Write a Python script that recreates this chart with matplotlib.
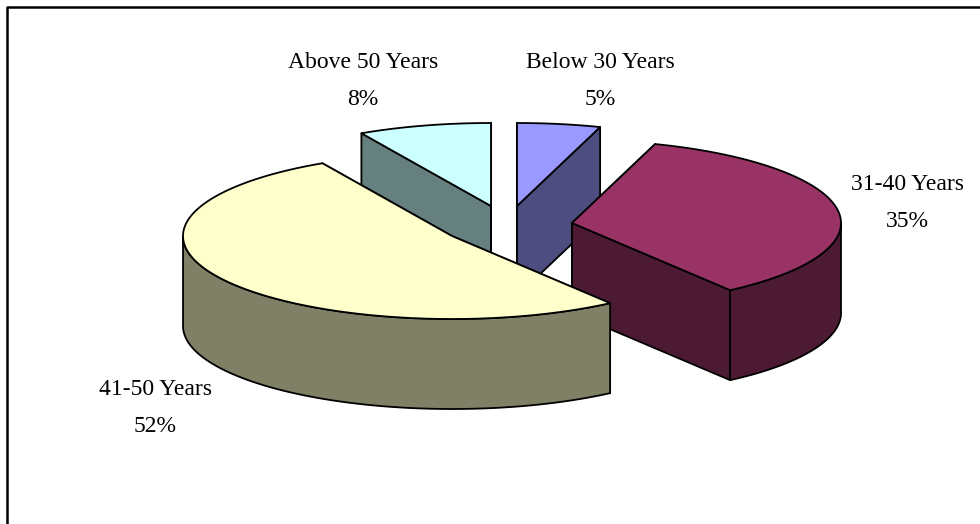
import numpy as np
import matplotlib
matplotlib.use('Agg')
import matplotlib.pyplot as plt
from matplotlib.patches import Polygon

labels = ['Below 30 Years', '31-40 Years', '41-50 Years', 'Above 50 Years']
values = [5, 35, 52, 8]
top_colors = ['#9999FF', '#993366', '#FFFFCC', '#CCFFFF']
side_colors = ['#4D4D80', '#4D1A33', '#808066', '#668080']

# pixel position of each slice's tip, the pie is exploded
tips = [(517, 206), (572, 223), (452, 236), (491, 206)]
label_pos = [(600, 81), (907, 203), (155, 408), (363, 81)]
rx, ry, depth = 269, 83, 90
draw_order = [3, 0, 1, 2]


def rim(tip, a0, a1):
    a = np.radians(np.linspace(a0, a1, 150))
    return np.column_stack([tip[0] + rx*np.sin(a), tip[1] - ry*np.cos(a)])


def add(ax, pts, color):
    ax.add_patch(Polygon(pts, closed=True, facecolor=color, edgecolor='k',
                         linewidth=1.3, joinstyle='round'))


fig = plt.figure(figsize=(9.8, 5.24), dpi=100)
ax = fig.add_axes([0, 0, 1, 1])
ax.set_xlim(0, 980)
ax.set_ylim(524, 0)
ax.axis('off')

# chart frame, only top and left are inside the picture
ax.plot([7.3, 7.3, 980], [524, 7.3, 7.3], color='k', linewidth=1.8)

edges = np.cumsum([0] + values) / sum(values) * 360
drop = np.array([0, depth])

for i in draw_order:
    tip = np.array(tips[i], dtype=float)
    a0, a1 = edges[i], edges[i + 1]
    arc = rim(tip, a0, a1)

    # flat cut walls
    for end in (arc[0], arc[-1]):
        add(ax, [tip, end, end + drop, tip + drop], side_colors[i])

    # curved wall, only the part of the rim that faces front
    lo, hi = max(a0, 90), min(a1, 270)
    if lo < hi:
        front = rim(tip, lo, hi)
        add(ax, np.vstack([front, (front + drop)[::-1]]), side_colors[i])

    add(ax, np.vstack([tip, arc]), top_colors[i])

for name, val, pos in zip(labels, values, label_pos):
    ax.text(pos[0], pos[1], f'{name}\n{val}%', ha='center', va='center',
            family='Liberation Serif', fontsize=17, linespacing=2.0,
            color='k')

fig.savefig('out.png', dpi=100)
